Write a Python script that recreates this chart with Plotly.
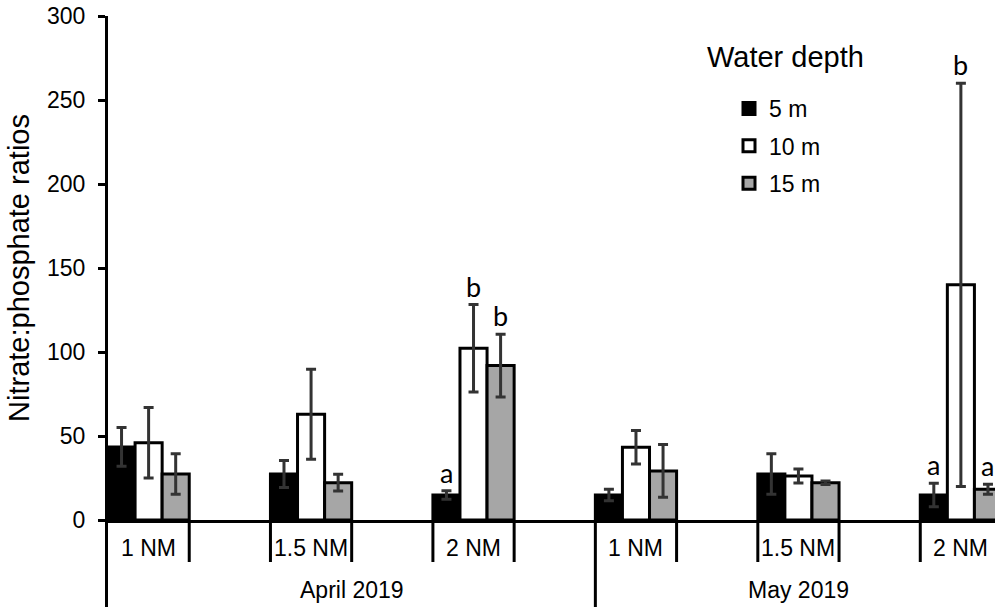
import plotly.graph_objects as go

# ---- data ----
months = ["April 2019", "May 2019"]
distances = ["1 NM", "1.5 NM", "2 NM"]
depths = ["5 m", "10 m", "15 m"]

# order: April 1, 1.5, 2 NM ; May 1, 1.5, 2 NM
vals_5 = [43.5, 27.4, 14.9, 14.9, 27.4, 14.9]
err_5 = [11.5, 8.0, 2.5, 3.4, 12.0, 7.0]
vals_10 = [46.0, 62.9, 102.2, 43.3, 26.2, 140.0]
err_10 = [21.0, 26.8, 26.0, 10.0, 4.2, 120.0]
vals_15 = [27.4, 22.2, 91.9, 29.2, 22.2, 18.3]
err_15 = [12.0, 5.0, 18.7, 15.7, 1.0, 3.0]

letters_5 = ["", "", "a", "", "", "a"]
letters_10 = ["", "", "b", "", "", "b"]
letters_15 = ["", "", "b", "", "", "a"]

y_ticks = [0, 50, 100, 150, 200, 250, 300]

colors = ["#000000", "#FFFFFF", "#A6A6A6"]
series_vals = [vals_5, vals_10, vals_15]
series_errs = [err_5, err_10, err_15]
series_letters = [letters_5, letters_10, letters_15]

# slot positions: each category occupies one slot, blank slot between categories
slots_per_month = 2 * len(distances)
xpos = []
month_of = []
for mi, m in enumerate(months):
    for di, d in enumerate(distances):
        xpos.append(mi * slots_per_month + di * 2)
        month_of.append(mi)
cat_labels = distances * len(months)

bw = 1.0 / len(depths)
offsets = [-0.5 + i * bw for i in range(len(depths))]

FONT = "Liberation Sans, Arial, sans-serif"

fig = go.Figure()
for i, dep in enumerate(depths):
    fig.add_trace(go.Bar(
        name=dep, x=xpos, y=series_vals[i],
        width=bw, offset=offsets[i],
        marker=dict(color=colors[i], line=dict(color="black", width=3)),
        error_y=dict(type="data", array=series_errs[i], color="#333333",
                     thickness=3, width=5),
        legendgroup=dep,
    ))

annotations = []
# significance letters
for i in range(len(depths)):
    for k, x in enumerate(xpos):
        t = series_letters[i][k]
        if t:
            annotations.append(dict(
                x=x + offsets[i] + bw / 2, y=series_vals[i][k] + series_errs[i][k],
                xref="x", yref="y", text=t, showarrow=False,
                yanchor="bottom", yshift=0,
                font=dict(family="Lato, sans-serif", size=27, color="black")))

# category labels
plot_top, plot_bottom, fig_h = 16, 520, 607
ph = plot_bottom - plot_top
def py(pix):
    return (plot_bottom - pix) / ph

for x, lab in zip(xpos, cat_labels):
    annotations.append(dict(x=x, y=py(548), xref="x", yref="paper", text=lab,
                            showarrow=False, yanchor="middle",
                            font=dict(family=FONT, size=23, color="black")))

# month labels
month_ranges = []
for mi, m in enumerate(months):
    xs = [x for x, mo in zip(xpos, month_of) if mo == mi]
    lo = min(xs) - 0.5
    hi = max(xs) + 0.5 + (1 if mi < len(months) - 1 else 0)
    month_ranges.append((lo, hi))
    annotations.append(dict(x=(lo + hi) / 2, y=py(590), xref="x", yref="paper",
                            text=m, showarrow=False, yanchor="middle",
                            font=dict(family=FONT, size=23, color="black")))

# legend title
annotations.append(dict(x=(705 - 108) / 887, y=py(57), xref="paper", yref="paper",
                        text="Water depth", showarrow=False, xanchor="left",
                        yanchor="middle",
                        font=dict(family=FONT, size=29, color="black")))

shapes = []
# short separators at each slot boundary
n_slots = slots_per_month * len(months) - 1
for b in range(n_slots - 1):
    xb = b + 0.5
    long = any(abs(xb - r[0]) < 1e-9 for r in month_ranges)
    shapes.append(dict(type="line", xref="x", yref="paper", x0=xb, x1=xb,
                       y0=0, y1=py(fig_h) if long else py(562),
                       line=dict(color="black", width=3)))
# left divider extension (y axis continuation)
shapes.append(dict(type="line", xref="paper", yref="paper", x0=-0.0017, x1=-0.0017,
                   y0=0, y1=py(fig_h), line=dict(color="black", width=3)))

fig.update_layout(
    width=995, height=607,
    margin=dict(l=108, r=0, t=16, b=87),
    paper_bgcolor="white", plot_bgcolor="white",
    barmode="overlay",
    showlegend=True,
    legend=dict(x=(729 - 108) / 887, y=py(87), xanchor="left", yanchor="top",
                font=dict(family=FONT, size=23, color="black"),
                tracegroupgap=4.5, bgcolor="rgba(0,0,0,0)", traceorder="grouped"),
    xaxis=dict(range=[-0.5, 10.42], showline=True, linewidth=3, linecolor="black",
               showticklabels=False, ticks="", showgrid=False, zeroline=False),
    yaxis=dict(range=[0, 300], tickvals=y_ticks, showline=True, linewidth=3,
               linecolor="black", ticks="outside", ticklen=7, tickwidth=3,
               tickcolor="black", showgrid=False, zeroline=False,
               tickfont=dict(family=FONT, size=23, color="black"),
               ticklabelstandoff=8,
               title=dict(text="Nitrate:phosphate ratios", standoff=9,
                          font=dict(family=FONT, size=29, color="black"))),
    annotations=annotations,
    shapes=shapes,
)

fig.write_html("out.html")
